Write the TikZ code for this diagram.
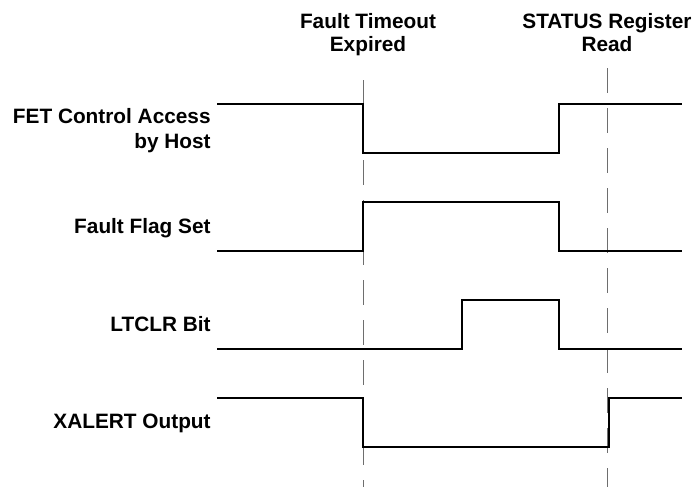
\documentclass[tikz,border=0pt]{standalone}
\usepackage{fontspec}
\setmainfont{Liberation Sans}
\usepackage{xcolor}
\usepackage{tikz}
\definecolor{sigblack}{RGB}{0, 0, 0}
\definecolor{markgray}{RGB}{110, 110, 110}

\tikzset{
  sig/.style={line width=1pt, sigblack, line join=miter},
  marker/.style={line width=0.5pt, markgray, dash pattern=on 12.5pt off 7.5pt},
  lbl/.style={inner sep=0pt, font=\bfseries\fontsize{10.4}{12.3}\selectfont, align=right},
  ttl/.style={inner sep=0pt, font=\bfseries\fontsize{10.4}{11.3}\selectfont, align=center, anchor=north}
}

\begin{document}
\begin{tikzpicture}[x=0.5pt, y=-0.5pt]
\useasboundingbox (0,0) rectangle (695,487);

% event markers
\node[ttl] (ftimeout) at (368,13) {Fault Timeout\\Expired};
\node[ttl] (statread) at (607,13) {STATUS Register\\Read};
\coordinate (ftop) at (363,80);
\coordinate (fbot) at (363,487);
\coordinate (stop) at (607,68);
\coordinate (sbot) at (607,487);
\draw[marker] (ftop) -- (fbot);
\draw[marker] (stop) -- (sbot);

% FET control
\node[lbl, anchor=north east] (fetlbl) at (211,108.5) {FET Control Access\\by Host};
\draw[sig] (217,104) -- (363,104) -- (363,153) -- (559,153) -- (559,104) -- (682,104);

% fault flag
\node[lbl, anchor=base east] (flaglbl) at (211,233.3) {Fault Flag Set};
\draw[sig] (217,251) -- (363,251) -- (363,202) -- (559,202) -- (559,251) -- (682,251);

% LTCLR
\node[lbl, anchor=base east] (ltclrlbl) at (211,331.7) {LTCLR Bit};
\draw[sig] (217,349) -- (462,349) -- (462,300) -- (559,300) -- (559,349) -- (682,349);

% XALERT
\node[lbl, anchor=base east] (xalertlbl) at (211,428.3) {XALERT Output};
\draw[sig] (217,398) -- (363,398) -- (363,447) -- (609,447) -- (609,398) -- (682,398);
\end{tikzpicture}
\end{document}
